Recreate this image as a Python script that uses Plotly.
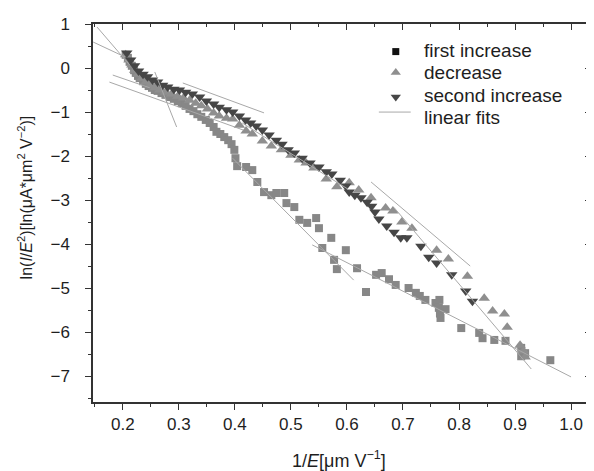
import plotly.graph_objects as go

# ---- data ----
first_x = [0.205,0.209,0.212,0.216,0.220,0.223,0.227,0.230,0.236,0.241,0.246,0.252,0.257,0.262,0.269,0.276,
           0.284,0.291,0.298,0.305,0.312,0.319,0.326,0.333,0.340,0.348,0.355,0.362,0.367,0.374,0.381,0.388,
           0.394,0.399,0.401,0.404,0.420,0.431,0.440,0.452,0.465,0.474,0.488,0.492,0.506,0.515,0.529,0.545,
           0.550,0.572,0.556,0.598,0.577,0.582,0.618,0.634,0.652,0.662,0.675,0.687,0.710,0.723,0.730,0.740,
           0.758,0.765,0.764,0.776,0.767,0.766,0.804,0.836,0.842,0.863,0.883,0.911,0.918,0.911,0.963]
first_y = [0.30,0.23,0.14,0.05,-0.05,-0.11,-0.18,-0.23,-0.30,-0.36,-0.41,-0.45,-0.50,-0.52,-0.57,-0.61,
           -0.66,-0.70,-0.75,-0.80,-0.86,-0.93,-0.98,-1.05,-1.11,-1.18,-1.25,-1.34,-1.45,-1.50,-1.57,-1.64,
           -1.73,-1.86,-2.05,-2.23,-2.25,-2.32,-2.59,-2.82,-2.89,-2.84,-2.84,-3.07,-3.16,-3.45,-3.52,-3.41,
           -3.64,-3.86,-4.09,-4.14,-4.36,-4.57,-4.55,-5.09,-4.70,-4.66,-4.80,-4.93,-5.00,-5.11,-5.18,-5.27,
           -5.34,-5.27,-5.45,-5.48,-5.68,-5.58,-5.91,-6.02,-6.14,-6.18,-6.20,-6.36,-6.48,-6.55,-6.64]

decr_x = [0.205,0.211,0.216,0.221,0.227,0.234,0.241,0.248,0.257,0.266,0.276,0.287,0.298,0.308,0.319,0.330,
          0.340,0.351,0.362,0.372,0.385,0.396,0.408,0.420,0.431,0.449,0.465,0.483,0.500,0.515,0.527,0.541,
          0.563,0.582,0.604,0.621,0.643,0.669,0.682,0.698,0.716,0.760,0.781,0.815,0.845,0.860,0.881,0.886,
          0.909,0.915,0.918]
decr_y = [0.30,0.18,0.07,-0.05,-0.14,-0.23,-0.32,-0.39,-0.45,-0.50,-0.55,-0.59,-0.64,-0.68,-0.73,-0.80,
          -0.86,-0.93,-1.02,-1.09,-1.14,-1.16,-1.30,-1.43,-1.50,-1.66,-1.77,-1.86,-1.98,-2.09,-2.16,-2.27,
          -2.52,-2.70,-2.61,-2.77,-2.95,-3.18,-3.25,-3.50,-3.64,-4.14,-4.34,-4.73,-5.23,-5.52,-5.59,-5.89,
          -6.30,-6.43,-6.57]

second_x = [0.207,0.214,0.221,0.228,0.236,0.244,0.253,0.262,0.271,0.280,0.291,0.301,0.312,0.324,0.337,0.349,
            0.362,0.372,0.385,0.396,0.408,0.419,0.428,0.438,0.449,0.461,0.474,0.484,0.495,0.506,0.520,0.534,
            0.550,0.563,0.573,0.588,0.598,0.604,0.614,0.625,0.636,0.644,0.650,0.657,0.671,0.684,0.696,0.707,
            0.732,0.746,0.760,0.787,0.812,0.824]
second_y = [0.34,0.18,0.05,-0.07,-0.14,-0.20,-0.27,-0.32,-0.39,-0.43,-0.48,-0.50,-0.55,-0.59,-0.66,-0.75,
            -0.82,-0.89,-0.95,-1.00,-1.09,-1.18,-1.25,-1.32,-1.41,-1.52,-1.64,-1.73,-1.86,-1.93,-2.05,-2.16,
            -2.25,-2.36,-2.41,-2.55,-2.68,-2.82,-2.89,-2.95,-3.05,-3.14,-3.27,-3.43,-3.59,-3.73,-3.86,-3.86,
            -4.05,-4.30,-4.43,-4.70,-5.07,-5.30]

# linear fit segments: (x0, y0, x1, y1)
fit_x0 = [0.154, 0.147, 0.182, 0.176, 0.257, 0.307, 0.413, 0.396, 0.538, 0.643, 0.684]
fit_y0 = [0.93, 0.59, -0.16, -0.32, -0.09, -0.34, -1.25, -2.05, -4.02, -2.59, -3.17]
fit_x1 = [0.212, 0.204, 0.248, 0.415, 0.296, 0.452, 0.604, 0.612, 1.000, 0.820, 0.929]
fit_y1 = [0.07, 0.25, -0.45, -1.41, -1.34, -1.02, -2.77, -4.82, -7.02, -4.50, -6.84]

legend_labels = ["first increase", "decrease", "second increase", "linear fits"]
x_ticks = [0.2, 0.3, 0.4, 0.5, 0.6, 0.7, 0.8, 0.9, 1.0]
y_ticks = [1, 0, -1, -2, -3, -4, -5, -6, -7]

# ---- styles ----
FONT = "Liberation Sans, Arial, sans-serif"
TXT = "#1e1e1e"
C_SQ = "#878787"
C_UP = "#8f8f8f"
C_DN = "#464646"
C_FIT = "#a8a8a8"
AX = "#333333"
XR = [0.1467, 1.0356]
YR = [-7.59, 1.0]

fig = go.Figure()

fig.add_trace(go.Scatter(x=first_x, y=first_y, mode="markers", showlegend=False,
                         marker=dict(symbol="square", size=8, color=C_SQ)))
fig.add_trace(go.Scatter(x=decr_x, y=decr_y, mode="markers", showlegend=False,
                         marker=dict(symbol="triangle-up", size=10, color=C_UP)))
fig.add_trace(go.Scatter(x=second_x, y=second_y, mode="markers", showlegend=False,
                         marker=dict(symbol="triangle-down", size=10, color=C_DN)))

lx, ly = [], []
for a, b, c, d in zip(fit_x0, fit_y0, fit_x1, fit_y1):
    lx += [a, c, None]
    ly += [b, d, None]
fig.add_trace(go.Scatter(x=lx, y=ly, mode="lines", showlegend=False,
                         line=dict(color=C_FIT, width=1)))

# hand-drawn legend on a hidden 0..1 overlay (positions are layout, not data)
LX_MARK, LX_TEXT = 0.608, 0.66
ROWS = [0.930, 0.872, 0.811, 0.753]
fig.add_trace(go.Scatter(x=[LX_MARK], y=[ROWS[0] - 0.003], xaxis="x3", yaxis="y3", mode="markers",
                         showlegend=False, hoverinfo="skip",
                         marker=dict(symbol="square", size=7, color="#111111")))
fig.add_trace(go.Scatter(x=[LX_MARK], y=[ROWS[1]], xaxis="x3", yaxis="y3", mode="markers",
                         showlegend=False, hoverinfo="skip",
                         marker=dict(symbol="triangle-up", size=9, color=C_UP)))
fig.add_trace(go.Scatter(x=[LX_MARK], y=[ROWS[2] - 0.004], xaxis="x3", yaxis="y3", mode="markers",
                         showlegend=False, hoverinfo="skip",
                         marker=dict(symbol="triangle-down", size=9, color=C_DN)))
fig.add_trace(go.Scatter(x=[0.574, 0.638], y=[ROWS[3] + 0.014] * 2, xaxis="x3", yaxis="y3", mode="lines",
                         showlegend=False, hoverinfo="skip", line=dict(color=C_FIT, width=1)))
# dummy for mirrored inner-tick axes
fig.add_trace(go.Scatter(x=[None], y=[None], xaxis="x2", yaxis="y2", showlegend=False))

common = dict(showgrid=False, zeroline=False, showline=True, linecolor=AX, linewidth=1.5,
              tickcolor=AX, tickwidth=1.3, ticklen=6)

annotations = [
    dict(text=t, xref="paper", yref="paper", x=LX_TEXT, y=yv, xanchor="left", yanchor="middle",
         showarrow=False, font=dict(size=19, color=TXT))
    for t, yv in zip(legend_labels, ROWS)
]
annotations += [
    dict(text="1/<i>E</i>[μm V<sup>−1</sup>]", xref="paper", yref="paper",
         x=0.494, y=-0.153, xanchor="center", yanchor="middle", showarrow=False,
         font=dict(size=18, color=TXT)),
    dict(text="ln(<i>I</i>/<i>E</i><sup>2</sup>)[ln(μA*μm<sup>2</sup> V<sup>−2</sup>)]",
         xref="paper", yref="paper", x=-0.136, y=0.542, xanchor="center", yanchor="middle",
         textangle=-90, showarrow=False, font=dict(size=16, color=TXT)),
]

fig.update_layout(
    width=586, height=463,
    margin=dict(l=85, r=1, t=16, b=69),
    paper_bgcolor="white", plot_bgcolor="white",
    font=dict(family=FONT, size=17, color=TXT),
    showlegend=False,
    xaxis=dict(range=XR, tickvals=x_ticks, ticktext=[f"{v:.1f}" for v in x_ticks],
               ticks="outside", mirror=True, tickfont=dict(size=17, color=TXT),
               minor=dict(dtick=0.05, tick0=0.15, ticks="outside", ticklen=3, tickcolor=AX, tickwidth=1.2),
               **common),
    yaxis=dict(range=YR, tickvals=y_ticks, ticks="outside", mirror=True, ticklabelstandoff=12,
               tickfont=dict(size=17, color=TXT),
               minor=dict(dtick=0.5, tick0=0.5, ticks="outside", ticklen=3, tickcolor=AX, tickwidth=1.2),
               **common),
    xaxis2=dict(range=XR, overlaying="x", side="top", anchor="y2", tickvals=x_ticks,
                showticklabels=False, ticks="inside",
                minor=dict(dtick=0.05, tick0=0.15, ticks="inside", ticklen=3, tickcolor=AX, tickwidth=1.2),
                **common),
    yaxis2=dict(range=YR, overlaying="y", side="right", anchor="x2", tickvals=y_ticks,
                showticklabels=False, ticks="inside",
                minor=dict(dtick=0.5, tick0=0.5, ticks="inside", ticklen=3, tickcolor=AX, tickwidth=1.2),
                **common),
    xaxis3=dict(range=[0, 1], overlaying="x", anchor="y3", visible=False),
    yaxis3=dict(range=[0, 1], overlaying="y", anchor="x3", visible=False),
    annotations=annotations,
)

fig.write_html("out.html")
